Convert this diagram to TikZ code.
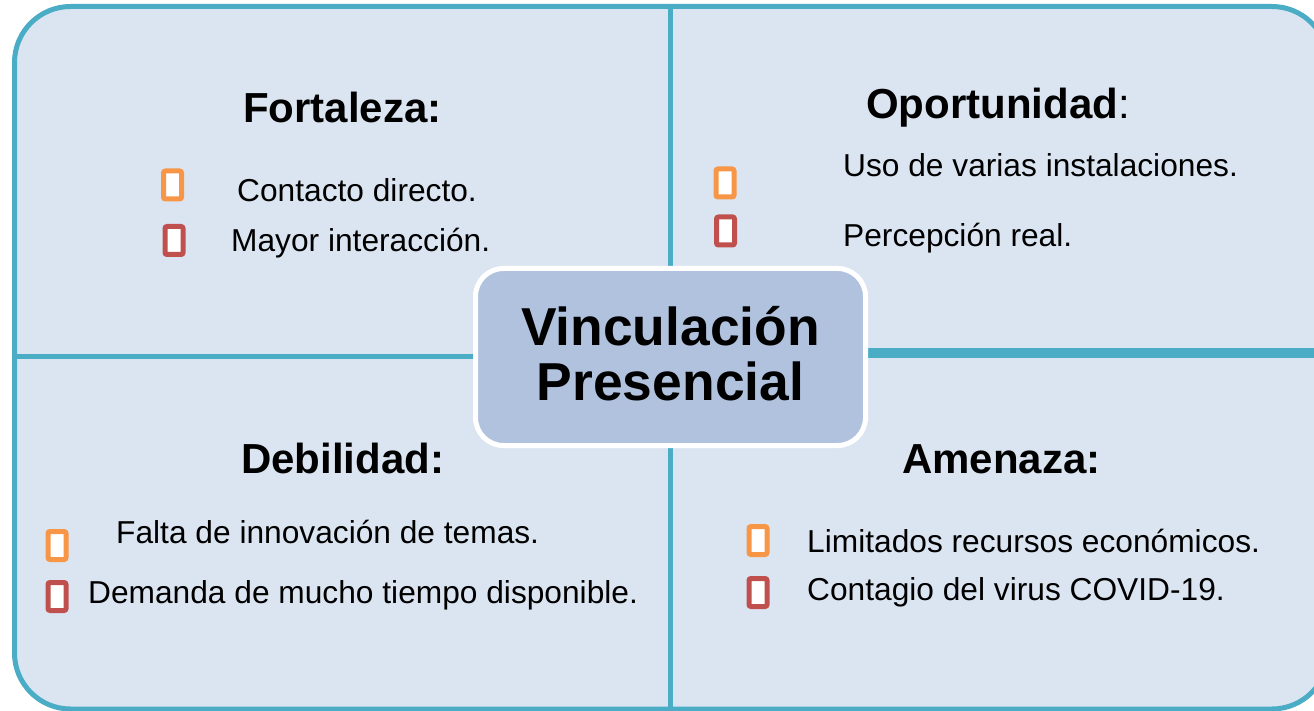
\documentclass[tikz,border=0pt]{standalone}
\usepackage{fontspec}
\setmainfont{Liberation Sans}
\definecolor{frameteal}{HTML}{4BACC6}
\definecolor{panelfill}{HTML}{DBE5F1}
\definecolor{centerfill}{HTML}{B0C2DE}
\definecolor{bulorange}{HTML}{F79646}
\definecolor{bulred}{HTML}{C0504D}
\tikzset{
  frame/.style={draw=frameteal, line width=5pt, rounded corners=56pt},
  divider/.style={draw=frameteal, line width=5pt},
  bulbox/.style={rectangle, line width=5pt, fill=white, rounded corners=2pt,
    minimum width=18pt, minimum height=28pt, inner sep=0pt},
  bulo/.style={bulbox, draw=bulorange},
  bulr/.style={bulbox, draw=bulred},
  itemtxt/.style={anchor=base west, inner sep=0pt, font=\fontsize{31.7}{37}\selectfont},
  headtxt/.style={anchor=base west, inner sep=0pt, font=\bfseries\fontsize{42}{48}\selectfont},
  centertxt/.style={anchor=base, inner sep=0pt, font=\bfseries\fontsize{53.4}{55}\selectfont},
  centerbox/.style={rectangle, draw=white, line width=5pt, fill=centerfill,
    rounded corners=28pt, minimum width=390pt, minimum height=177pt, inner sep=0pt}
}
\begin{document}
\begin{tikzpicture}[x=1pt,y=-1pt]
\useasboundingbox (0,0) rectangle (1314,711);
\clip (0,0) rectangle (1314,711);
% background panel
\fill[panelfill, rounded corners=56pt] (14.5,6.5) rectangle (1328,709);
% divider coordinates
\coordinate (vtop) at (670.5,6.5);
\coordinate (vbot) at (670.5,709);
\coordinate (hleft) at (14.5,356.5);
\coordinate (hright) at (1328,353);
\coordinate (hmidl) at (670.5,356.5);
\coordinate (hmidr) at (670.5,353);
\draw[divider] (vtop) -- (vbot);
\draw[divider] (hleft) -- (hmidl);
\draw[divider, line width=10pt] (hmidr) -- (hright);
% outer frame
\draw[frame] (14.5,6.5) rectangle (1328,709);
% center box
\node[centerbox] (c) at (670.5,357) {};
\node[centertxt] (c1) at (670.5,345) {Vinculación};
\node[centertxt] (c2) at (670.5,400) {Presencial};
% Fortaleza
\node[headtxt] (hf) at (243,123) {Fortaleza:};
\node[bulo] (f1b) at (172.5,185) {};
\node[itemtxt] (f1) at (237,202) {Contacto directo.};
\node[bulr] (f2b) at (174,240.5) {};
\node[itemtxt] (f2) at (231,252) {Mayor interacción.};
% Oportunidad
\node[headtxt] (ho) at (866,119) {Oportunidad\mdseries:};
\node[bulo] (o1b) at (725,183) {};
\node[itemtxt] (o1) at (843,177) {Uso de varias instalaciones.};
\node[bulr] (o2b) at (725.5,231) {};
\node[itemtxt] (o2) at (843,247) {Percepción real.};
% Debilidad
\node[headtxt] (hd) at (241,473) {Debilidad:};
\node[bulo] (d1b) at (57,545.5) {};
\node[itemtxt] (d1) at (116,543) {Falta de innovación de temas.};
\node[bulr] (d2b) at (57,596.5) {};
\node[itemtxt] (d2) at (88,603) {Demanda de mucho tiempo disponible.};
% Amenaza
\node[headtxt] (ha) at (902,473) {Amenaza:};
\node[bulo] (a1b) at (758,540.5) {};
\node[itemtxt] (a1) at (807,552) {Limitados recursos económicos.};
\node[bulr] (a2b) at (758,592.5) {};
\node[itemtxt] (a2) at (807,600) {Contagio del virus COVID-19.};
\end{tikzpicture}
\end{document}
